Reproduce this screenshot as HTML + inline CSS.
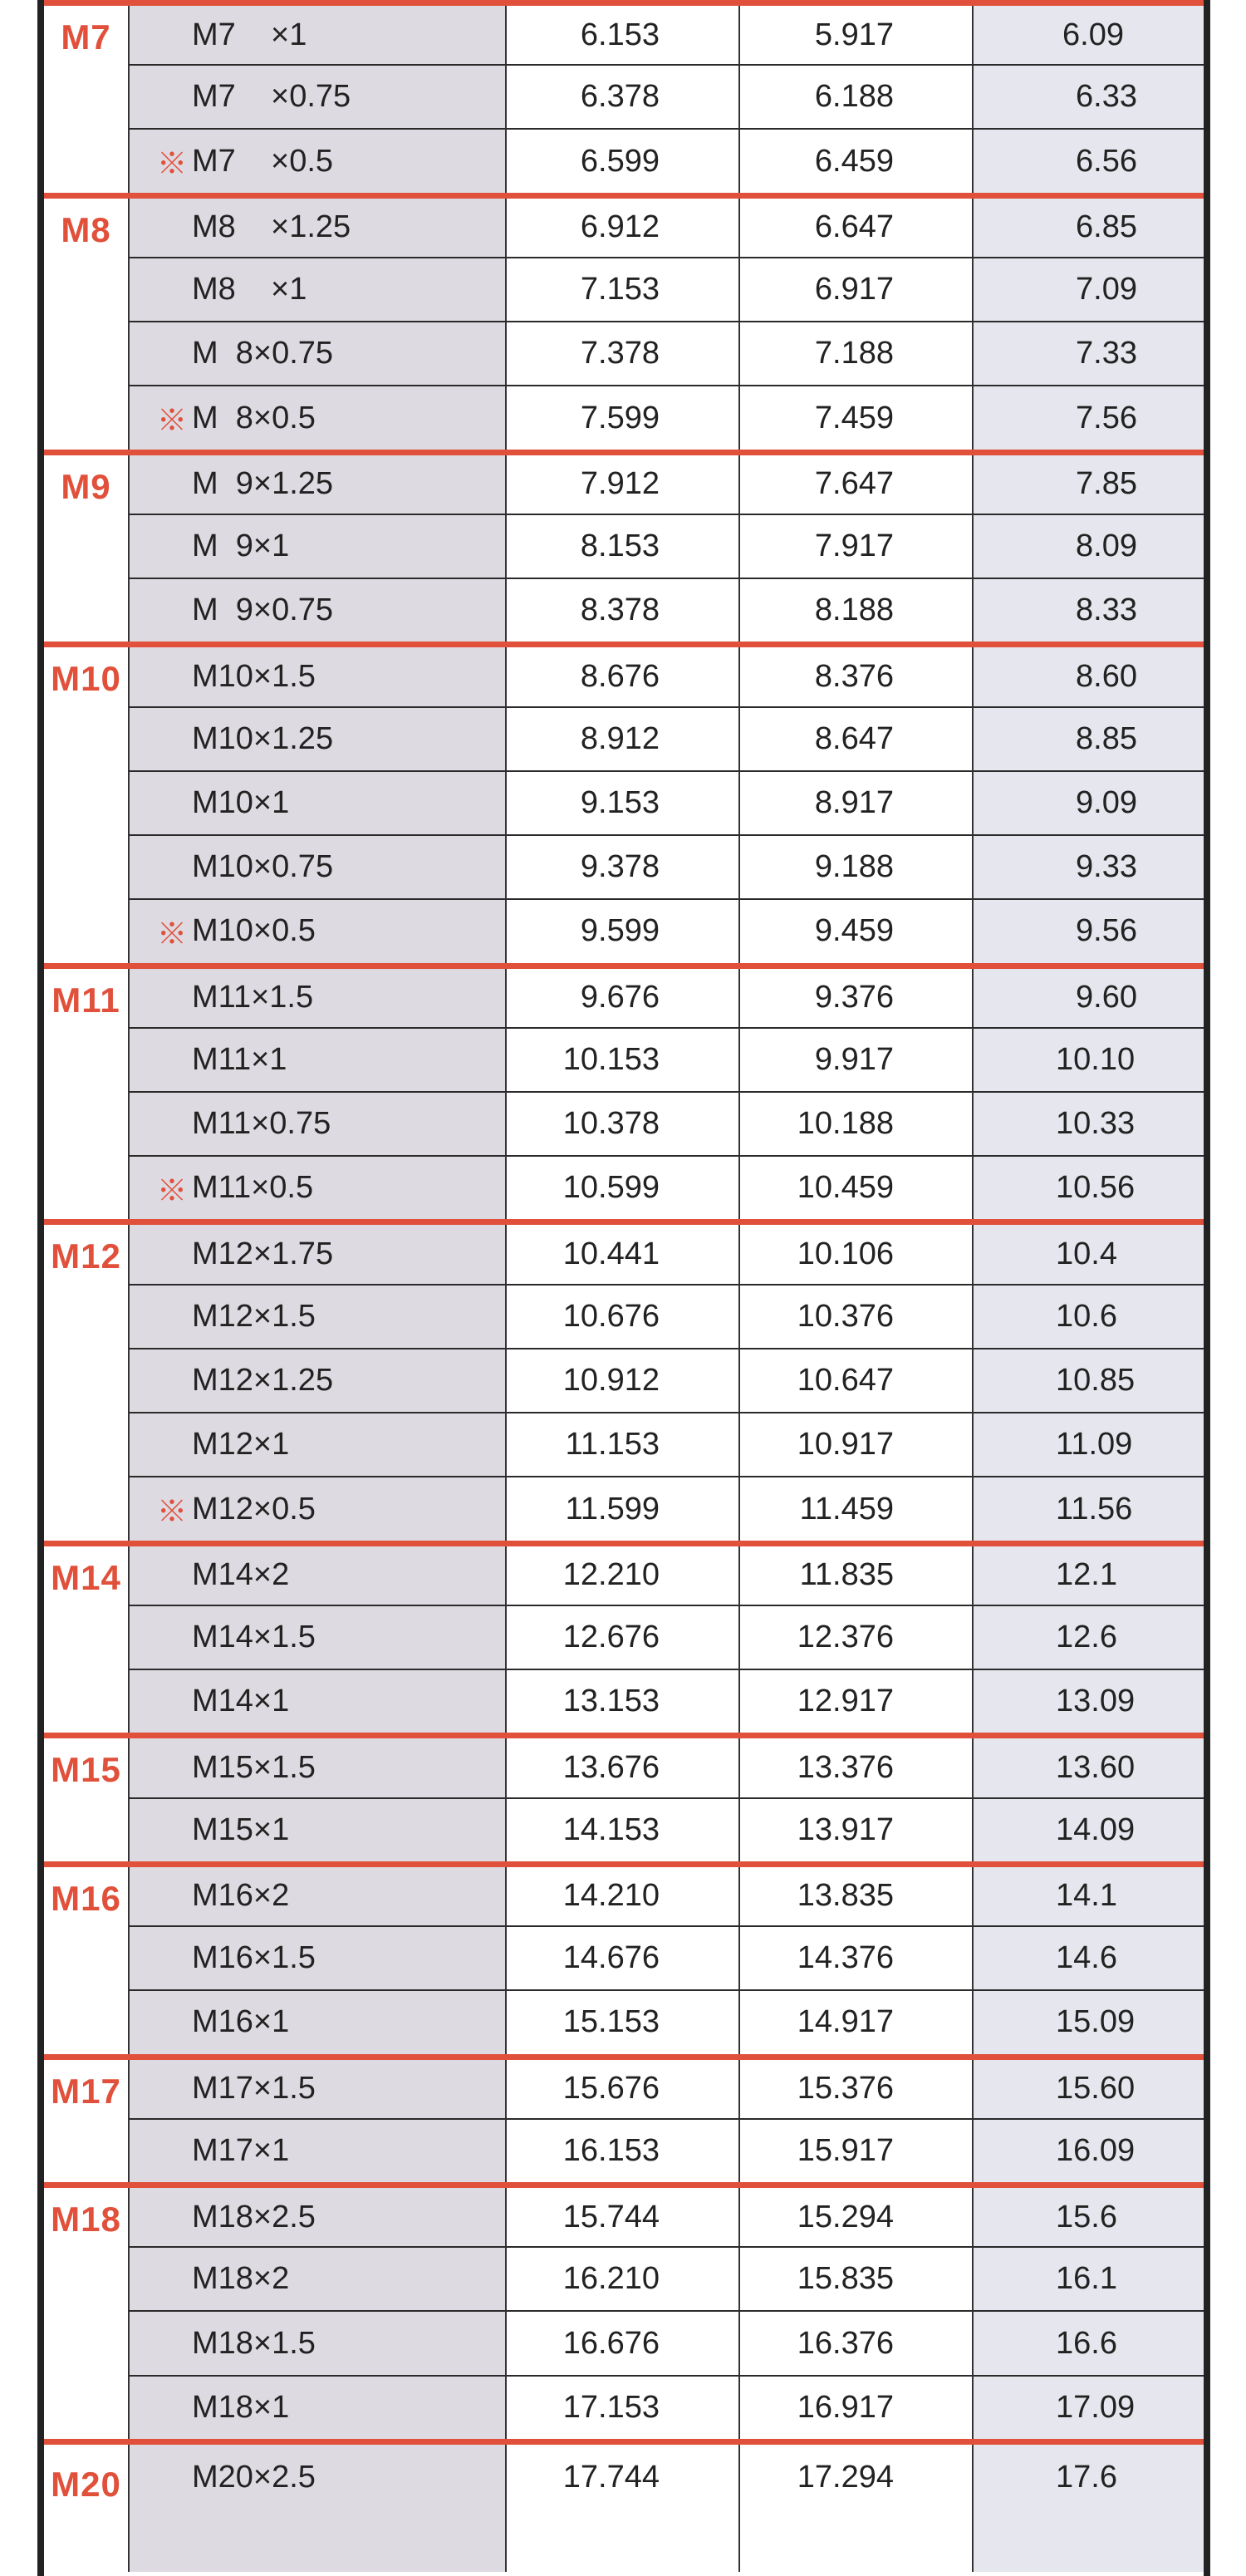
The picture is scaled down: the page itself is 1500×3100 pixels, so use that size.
<!DOCTYPE html>
<html><head><meta charset="utf-8"><style>
html,body{margin:0;padding:0;background:#fff;width:1500px;height:3020px;overflow:hidden}
.t{position:absolute;left:45px;top:0;width:1412px;box-sizing:border-box;border-left:8px solid #222;border-right:8px solid #222;height:3100px;font-family:"Liberation Sans","Noto Sans CJK JP",sans-serif;color:#222;font-size:38px}
.r{display:flex;height:77.24px;box-sizing:border-box}
.r>div{height:100%;box-sizing:border-box;display:flex;align-items:center;position:relative}
.r:not(.g)>div:not(.c0){border-top:2px solid #2a2a2a}
.g{border-top:7px solid #e0503a}
.c0{width:101px;background:#fff;justify-content:center;font-weight:bold;color:#e0503a;font-size:42px;letter-spacing:1px}
.c1{width:454px;background:#dedae1;border-left:2px solid #333;padding-left:75px;white-space:pre}
.c2{width:281px;border-left:2px solid #333;justify-content:flex-end;padding-right:95px;background:#fff}
.c3{width:281px;border-left:2px solid #333;justify-content:flex-end;padding-right:94px;background:#fff}
.c4{width:279px;border-left:2px solid #333;background:#e6e6ee;padding-left:123px}
.c4.w{padding-left:99px}
.m{position:absolute;left:33px;color:#e0503a;font-size:36px}
.c0 span{position:absolute;top:14px;left:0;right:0;text-align:center}
.last{height:160px}
.last>div{align-items:flex-start!important;padding-top:18px}
</style></head><body><div class="t">
<div class="r g"><div class="c0"><span>M7</span></div><div class="c1">M7    ×1</div><div class="c2">6.153</div><div class="c3">5.917</div><div class="c4" style="padding-left:107px">6.09</div></div>
<div class="r"><div class="c0"></div><div class="c1">M7    ×0.75</div><div class="c2">6.378</div><div class="c3">6.188</div><div class="c4">6.33</div></div>
<div class="r"><div class="c0"></div><div class="c1"><span class="m">※</span>M7    ×0.5</div><div class="c2">6.599</div><div class="c3">6.459</div><div class="c4">6.56</div></div>
<div class="r g"><div class="c0"><span>M8</span></div><div class="c1">M8    ×1.25</div><div class="c2">6.912</div><div class="c3">6.647</div><div class="c4">6.85</div></div>
<div class="r"><div class="c0"></div><div class="c1">M8    ×1</div><div class="c2">7.153</div><div class="c3">6.917</div><div class="c4">7.09</div></div>
<div class="r"><div class="c0"></div><div class="c1">M  8×0.75</div><div class="c2">7.378</div><div class="c3">7.188</div><div class="c4">7.33</div></div>
<div class="r"><div class="c0"></div><div class="c1"><span class="m">※</span>M  8×0.5</div><div class="c2">7.599</div><div class="c3">7.459</div><div class="c4">7.56</div></div>
<div class="r g"><div class="c0"><span>M9</span></div><div class="c1">M  9×1.25</div><div class="c2">7.912</div><div class="c3">7.647</div><div class="c4">7.85</div></div>
<div class="r"><div class="c0"></div><div class="c1">M  9×1</div><div class="c2">8.153</div><div class="c3">7.917</div><div class="c4">8.09</div></div>
<div class="r"><div class="c0"></div><div class="c1">M  9×0.75</div><div class="c2">8.378</div><div class="c3">8.188</div><div class="c4">8.33</div></div>
<div class="r g"><div class="c0"><span>M10</span></div><div class="c1">M10×1.5</div><div class="c2">8.676</div><div class="c3">8.376</div><div class="c4">8.60</div></div>
<div class="r"><div class="c0"></div><div class="c1">M10×1.25</div><div class="c2">8.912</div><div class="c3">8.647</div><div class="c4">8.85</div></div>
<div class="r"><div class="c0"></div><div class="c1">M10×1</div><div class="c2">9.153</div><div class="c3">8.917</div><div class="c4">9.09</div></div>
<div class="r"><div class="c0"></div><div class="c1">M10×0.75</div><div class="c2">9.378</div><div class="c3">9.188</div><div class="c4">9.33</div></div>
<div class="r"><div class="c0"></div><div class="c1"><span class="m">※</span>M10×0.5</div><div class="c2">9.599</div><div class="c3">9.459</div><div class="c4">9.56</div></div>
<div class="r g"><div class="c0"><span>M11</span></div><div class="c1">M11×1.5</div><div class="c2">9.676</div><div class="c3">9.376</div><div class="c4">9.60</div></div>
<div class="r"><div class="c0"></div><div class="c1">M11×1</div><div class="c2">10.153</div><div class="c3">9.917</div><div class="c4 w">10.10</div></div>
<div class="r"><div class="c0"></div><div class="c1">M11×0.75</div><div class="c2">10.378</div><div class="c3">10.188</div><div class="c4 w">10.33</div></div>
<div class="r"><div class="c0"></div><div class="c1"><span class="m">※</span>M11×0.5</div><div class="c2">10.599</div><div class="c3">10.459</div><div class="c4 w">10.56</div></div>
<div class="r g"><div class="c0"><span>M12</span></div><div class="c1">M12×1.75</div><div class="c2">10.441</div><div class="c3">10.106</div><div class="c4 w">10.4</div></div>
<div class="r"><div class="c0"></div><div class="c1">M12×1.5</div><div class="c2">10.676</div><div class="c3">10.376</div><div class="c4 w">10.6</div></div>
<div class="r"><div class="c0"></div><div class="c1">M12×1.25</div><div class="c2">10.912</div><div class="c3">10.647</div><div class="c4 w">10.85</div></div>
<div class="r"><div class="c0"></div><div class="c1">M12×1</div><div class="c2">11.153</div><div class="c3">10.917</div><div class="c4 w">11.09</div></div>
<div class="r"><div class="c0"></div><div class="c1"><span class="m">※</span>M12×0.5</div><div class="c2">11.599</div><div class="c3">11.459</div><div class="c4 w">11.56</div></div>
<div class="r g"><div class="c0"><span>M14</span></div><div class="c1">M14×2</div><div class="c2">12.210</div><div class="c3">11.835</div><div class="c4 w">12.1</div></div>
<div class="r"><div class="c0"></div><div class="c1">M14×1.5</div><div class="c2">12.676</div><div class="c3">12.376</div><div class="c4 w">12.6</div></div>
<div class="r"><div class="c0"></div><div class="c1">M14×1</div><div class="c2">13.153</div><div class="c3">12.917</div><div class="c4 w">13.09</div></div>
<div class="r g"><div class="c0"><span>M15</span></div><div class="c1">M15×1.5</div><div class="c2">13.676</div><div class="c3">13.376</div><div class="c4 w">13.60</div></div>
<div class="r"><div class="c0"></div><div class="c1">M15×1</div><div class="c2">14.153</div><div class="c3">13.917</div><div class="c4 w">14.09</div></div>
<div class="r g"><div class="c0"><span>M16</span></div><div class="c1">M16×2</div><div class="c2">14.210</div><div class="c3">13.835</div><div class="c4 w">14.1</div></div>
<div class="r"><div class="c0"></div><div class="c1">M16×1.5</div><div class="c2">14.676</div><div class="c3">14.376</div><div class="c4 w">14.6</div></div>
<div class="r"><div class="c0"></div><div class="c1">M16×1</div><div class="c2">15.153</div><div class="c3">14.917</div><div class="c4 w">15.09</div></div>
<div class="r g"><div class="c0"><span>M17</span></div><div class="c1">M17×1.5</div><div class="c2">15.676</div><div class="c3">15.376</div><div class="c4 w">15.60</div></div>
<div class="r"><div class="c0"></div><div class="c1">M17×1</div><div class="c2">16.153</div><div class="c3">15.917</div><div class="c4 w">16.09</div></div>
<div class="r g"><div class="c0"><span>M18</span></div><div class="c1">M18×2.5</div><div class="c2">15.744</div><div class="c3">15.294</div><div class="c4 w">15.6</div></div>
<div class="r"><div class="c0"></div><div class="c1">M18×2</div><div class="c2">16.210</div><div class="c3">15.835</div><div class="c4 w">16.1</div></div>
<div class="r"><div class="c0"></div><div class="c1">M18×1.5</div><div class="c2">16.676</div><div class="c3">16.376</div><div class="c4 w">16.6</div></div>
<div class="r"><div class="c0"></div><div class="c1">M18×1</div><div class="c2">17.153</div><div class="c3">16.917</div><div class="c4 w">17.09</div></div>
<div class="r g last" style="box-shadow:inset 0 3px 0 #222"><div class="c0"><span style="top:24px">M20</span></div><div class="c1">M20×2.5</div><div class="c2">17.744</div><div class="c3">17.294</div><div class="c4 w">17.6</div></div>
</div></body></html>
